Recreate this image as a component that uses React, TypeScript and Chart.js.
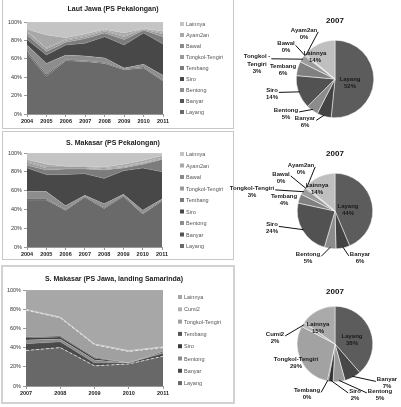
import React, { useEffect, useRef } from 'react';
import { Chart, registerables } from 'chart.js';

Chart.register(...registerables);

const FONT = '"Liberation Sans", Arial, sans-serif';
const NARROW = '"Liberation Sans Narrow", "Liberation Sans", Arial, sans-serif';

// ---------- data ----------
const SERIES_PS = ['Layang', 'Banyar', 'Bentong', 'Siro', 'Tembang', 'Tongkol-Tengiri', 'Bawal', 'Ayam2an', 'Lainnya'];
const SERIES_SM = ['Layang', 'Banyar', 'Bentong', 'Siro', 'Tembang', 'Tongkol-Tengiri', 'Cumi2', 'Lainnya'];
const YEARS_PS = ['2004', '2005', '2006', '2007', '2008', '2009', '2010', '2011'];
const YEARS_SM = ['2007', '2008', '2009', '2010', '2011'];

// Chart 1: Laut Jawa (PS Pekalongan) — % share per year
const LJ_LAYANG = [66, 41, 58, 57, 55, 48, 50, 36];
const LJ_BANYAR = [2, 2, 1, 1, 1, 1, 1, 1];
const LJ_BENTONG = [7, 12, 5, 5, 5, 1, 3, 5];
const LJ_SIRO = [6, 9, 11, 14, 23, 25, 34, 34];
const LJ_TEMBANG = [5, 4, 3, 5, 4, 6, 3, 8];
const LJ_TONGKOL = [3, 3, 2, 2, 2, 3, 1, 3];
const LJ_BAWAL = [1, 1, 1, 1, 1, 1, 1, 1];
const LJ_AYAM = [2, 14, 2, 2, 1, 3, 0, 2];
const LJ_LAINNYA = [8, 14, 17, 13, 8, 12, 7, 10];

// Chart 2: S. Makasar (PS Pekalongan)
const MK_LAYANG = [50, 50, 39, 53, 41, 54, 35, 49];
const MK_BANYAR = [1, 1, 1, 1, 1, 1, 1, 1];
const MK_BENTONG = [8, 8, 4, 1, 4, 1, 3, 1];
const MK_SIRO = [25, 18, 33, 23, 27, 25, 45, 29];
const MK_TEMBANG = [3, 5, 6, 5, 9, 3, 4, 13];
const MK_TONGKOL = [3, 2, 1, 1, 1, 1, 1, 1];
const MK_BAWAL = [1, 1, 1, 1, 1, 1, 1, 1];
const MK_AYAM = [2, 3, 1, 1, 1, 2, 2, 2];
const MK_LAINNYA = [7, 12, 14, 14, 15, 12, 8, 3];

// Chart 3: S. Makasar (PS Jawa, landing Samarinda)
const SJ_LAYANG = [37, 40, 21, 23, 31];
const SJ_BANYAR = [7, 6, 3, 1, 3];
const SJ_BENTONG = [4, 3, 3, 0, 1];
const SJ_SIRO = [2, 2, 2, 0, 1];
const SJ_TEMBANG = [1, 1, 1, 0, 0];
const SJ_TONGKOL = [28, 19, 13, 12, 4];
const SJ_CUMI = [1, 1, 1, 1, 1];
const SJ_LAINNYA = [20, 28, 56, 63, 59];

// Pies (2007 composition, %)
const PIE_LJ = [52, 6, 5, 14, 6, 3, 0.4, 0.4, 14];
const PIE_MK = [44, 6, 5, 24, 4, 3, 0.4, 0.4, 14];
const PIE_SJ = [38, 7, 5, 2, 0.4, 29, 2, 15];
const PIE_TITLE = '2007';

const TITLE_LJ = 'Laut Jawa (PS Pekalongan)';
const TITLE_MK = 'S. Makasar (PS Pekalongan)';
const TITLE_SJ = 'S. Makasar (PS Jawa, landing Samarinda)';

// ---------- styles ----------
const AREA_COLORS_PS = ['#6a6a6a', '#555555', '#8d8d8d', '#484848', '#7c7c7c', '#9a9a9a', '#8a8a8a', '#a8a8a8', '#c4c4c4'];
const AREA_COLORS_SM = ['#686868', '#4a4a4a', '#8a8a8a', '#3a3a3a', '#555555', '#a0a0a0', '#b2b2b2', '#a7a7a7'];
const PIE_COLORS_PS = ['#5c5c5c', '#434343', '#8c8c8c', '#525252', '#808080', '#9c9c9c', '#707070', '#aaaaaa', '#bfbfbf'];
const PIE_COLORS_SM = ['#5c5c5c', '#474747', '#999999', '#333333', '#111111', '#a2a2a2', '#b8b8b8', '#aaaaaa'];

const decorPlugin = {
  id: 'areaDecor',
  afterDraw(chart: any, _a: any, o: any) {
    const ctx = chart.ctx;
    ctx.save();
    ctx.fillStyle = '#222';
    ctx.font = `bold ${o.titleSize}px ${NARROW}`;
    ctx.textAlign = 'center';
    ctx.textBaseline = 'middle';
    ctx.fillText(o.title, o.titleX, o.titleY);
    const ds = chart.data.datasets;
    ctx.font = `${o.legendSize}px ${FONT}`;
    ctx.textAlign = 'left';
    for (let i = ds.length - 1, k = 0; i >= 0; i--, k++) {
      const y = o.legendY + k * o.legendStep;
      ctx.fillStyle = ds[i].backgroundColor;
      ctx.fillRect(o.legendX, y - 2, 4, 4);
      ctx.fillStyle = '#555';
      ctx.fillText(ds[i].label, o.legendX + 6, y + 0.5);
    }
    ctx.restore();
  },
};

const pieDecor = {
  id: 'pieDecor',
  afterDraw(chart: any, _a: any, o: any) {
    const ctx = chart.ctx;
    const meta = chart.getDatasetMeta(0);
    const values = chart.data.datasets[0].data;
    const names = chart.data.labels;
    ctx.save();
    const arc0 = meta.data[0];
    ctx.fillStyle = '#111';
    ctx.font = `bold 8px ${FONT}`;
    ctx.textAlign = 'center';
    ctx.textBaseline = 'middle';
    ctx.fillText(o.title, arc0.x, o.titleY);
    ctx.font = `bold 6px ${FONT}`;
    meta.data.forEach((arc: any, i: number) => {
      const cfg = o.labels[i];
      const cx = arc.x, cy = arc.y, r = arc.outerRadius;
      const mid = (arc.startAngle + arc.endAngle) / 2;
      const lx = cx + cfg[0], ly = cy + cfg[1];
      const flag = cfg[2] || '';
      const name = names[i];
      const lines = flag.includes('split') ? [name.replace('-', ' -').split(' ')[0] + ' -', name.split('-')[1]] : [name];
      lines.push(Math.round(values[i]) + '%');
      const lh = 7.2;
      const top = ly - ((lines.length - 1) * lh) / 2;
      let w = 0;
      lines.forEach((t: string) => (w = Math.max(w, ctx.measureText(t).width)));
      if (!flag.includes('in') && !flag.includes('noline')) {
        const px = cx + Math.cos(mid) * r * 0.97;
        const py = cy + Math.sin(mid) * r * 0.97;
        const nw = ctx.measureText(lines[0]).width;
        const ax = lx < px ? lx + nw / 2 + 1 : lx - nw / 2 - 1;
        const ay = top + 2;
        ctx.strokeStyle = '#111';
        ctx.lineWidth = 1;
        ctx.beginPath();
        ctx.moveTo(ax, ay);
        ctx.lineTo(px, py);
        ctx.stroke();
      }
      ctx.fillStyle = '#1a1a1a';
      lines.forEach((t: string, k: number) => ctx.fillText(t, lx, top + k * lh));
    });
    ctx.restore();
  },
};

function areaConfig(years: string[], names: string[], values: number[][], colors: string[], L: any, dashed: number[]) {
  return {
    type: 'line',
    data: {
      labels: years,
      datasets: names.map((n, i) => ({
        label: n,
        data: values[i],
        backgroundColor: colors[i],
        borderColor: dashed.includes(i) ? 'rgba(255,255,255,0.85)' : 'rgba(255,255,255,0.25)',
        borderWidth: dashed.includes(i) ? 0.8 : 0.6,
        borderDash: dashed.includes(i) ? [3, 2] : [],
        fill: i === 0 ? 'origin' : '-1',
        pointRadius: 0,
        tension: 0,
      })),
    },
    options: {
      animation: false,
      responsive: false,
      events: [],
      layout: { padding: { top: L.top, right: L.right, left: 0, bottom: 0 } },
      plugins: {
        legend: { display: false },
        tooltip: { enabled: false },
        areaDecor: L.decor,
      },
      scales: {
        x: {
          offset: false,
          grid: { drawOnChartArea: false, tickLength: 3, color: '#999' },
          border: { color: '#999' },
          ticks: { font: { size: 5.5, weight: 'bold', family: FONT }, color: '#222', padding: 1, maxRotation: 0, autoSkip: false },
          afterFit: (s: any) => { s.height = L.xh; },
        },
        y: {
          stacked: true,
          min: 0,
          max: 100,
          ticks: { stepSize: 20, callback: (v: any) => v + '%', font: { size: 5.5, family: FONT }, color: '#333', padding: 2 },
          grid: { drawOnChartArea: false, tickLength: 3, color: '#999' },
          border: { color: '#999' },
          afterFit: (s: any) => { s.width = L.yw; },
        },
      },
    },
    plugins: [decorPlugin],
  };
}

function pieConfig(names: string[], values: number[], colors: string[], pad: any, titleY: number, labels: any[]) {
  return {
    type: 'pie',
    data: {
      labels: names,
      datasets: [{ data: values, backgroundColor: colors, borderColor: '#ffffff', borderWidth: 0.5 }],
    },
    options: {
      animation: false,
      responsive: false,
      events: [],
      layout: { padding: pad },
      plugins: {
        legend: { display: false },
        tooltip: { enabled: false },
        pieDecor: { title: PIE_TITLE, titleY, labels },
      },
    },
    plugins: [pieDecor],
  };
}

const LABELS_LJ = [[15, 3.5, 'in'], [-30, 43], [-49, 34.5], [-63, 15], [-52, -9, 'noline'], [-78, -15, 'split'], [-49, -32], [-31, -45.5], [-20, -22.5, 'in']];
const LABELS_MK = [[13, -1.5, 'in'], [25, 46.5], [-27, 47], [-63, 17], [-51, -11, 'noline'], [-83, -19.5], [-54, -33.5], [-34, -42.5], [-18, -22.5, 'in']];
const LABELS_SJ = [[17, -4, 'in'], [52, 39], [45, 50.5], [20, 50.5], [-28, 50], [-39, 18.5, 'in'], [-60, -6.5], [-17, -16, 'in']];

function ChartCanvas({ make, left, top, width, height }: any) {
  const ref = useRef<HTMLCanvasElement>(null);
  useEffect(() => {
    const chart = new Chart(ref.current as HTMLCanvasElement, make());
    return () => chart.destroy();
  }, []);
  return <canvas ref={ref} width={width} height={height} style={{ position: 'absolute', left, top, width, height }} />;
}

export default function App() {
  const box = (left: number, top: number, w: number, h: number, b: string) => (
    <div style={{ position: 'absolute', left, top, width: w, height: h, border: b, boxSizing: 'border-box', background: '#fff' }} />
  );
  return (
    <div style={{ position: 'absolute', left: 0, top: 0, width: 401, height: 407, background: '#fff', overflow: 'hidden' }}>
      {box(2, -1, 232, 130, '1px solid #c8c8c8')}
      {box(2, 131, 232, 129, '1px solid #c8c8c8')}
      {box(1, 265, 234, 139, '2px solid #d2d2d2')}
      <ChartCanvas
        left={3} top={0} width={229} height={127}
        make={() => areaConfig(YEARS_PS, SERIES_PS,
          [LJ_LAYANG, LJ_BANYAR, LJ_BENTONG, LJ_SIRO, LJ_TEMBANG, LJ_TONGKOL, LJ_BAWAL, LJ_AYAM, LJ_LAINNYA],
          AREA_COLORS_PS,
          { top: 22, right: 69, yw: 24, xh: 13, decor: { title: TITLE_LJ, titleX: 110, titleY: 9, titleSize: 7, legendX: 177, legendY: 24, legendStep: 11, legendSize: 5.5 } },
          [])}
      />
      <ChartCanvas
        left={3} top={131} width={229} height={128}
        make={() => areaConfig(YEARS_PS, SERIES_PS,
          [MK_LAYANG, MK_BANYAR, MK_BENTONG, MK_SIRO, MK_TEMBANG, MK_TONGKOL, MK_BAWAL, MK_AYAM, MK_LAINNYA],
          AREA_COLORS_PS,
          { top: 22, right: 70, yw: 24, xh: 12, decor: { title: TITLE_MK, titleX: 110, titleY: 12, titleSize: 7, legendX: 177, legendY: 23, legendStep: 11.5, legendSize: 5.5 } },
          [])}
      />
      <ChartCanvas
        left={3} top={268} width={229} height={134}
        make={() => areaConfig(YEARS_SM, SERIES_SM,
          [SJ_LAYANG, SJ_BANYAR, SJ_BENTONG, SJ_SIRO, SJ_TEMBANG, SJ_TONGKOL, SJ_CUMI, SJ_LAINNYA],
          AREA_COLORS_SM,
          { top: 22, right: 69, yw: 23, xh: 16, decor: { title: TITLE_SJ, titleX: 111, titleY: 11, titleSize: 7, legendX: 175, legendY: 29, legendStep: 12.3, legendSize: 5.5 } },
          [0, 5])}
      />
      <ChartCanvas
        left={228} top={0} width={173} height={130}
        make={() => pieConfig(SERIES_PS, PIE_LJ, PIE_COLORS_PS, { left: 68, right: 27, top: 40, bottom: 12 }, 21, LABELS_LJ)}
      />
      <ChartCanvas
        left={228} top={131} width={173} height={135}
        make={() => pieConfig(SERIES_PS, PIE_MK, PIE_COLORS_PS, { left: 69, right: 28, top: 42, bottom: 17 }, 23, LABELS_MK)}
      />
      <ChartCanvas
        left={228} top={266} width={173} height={141}
        make={() => pieConfig(SERIES_SM, PIE_SJ, PIE_COLORS_SM, { left: 69, right: 28, top: 40, bottom: 25 }, 26, LABELS_SJ)}
      />
    </div>
  );
}
